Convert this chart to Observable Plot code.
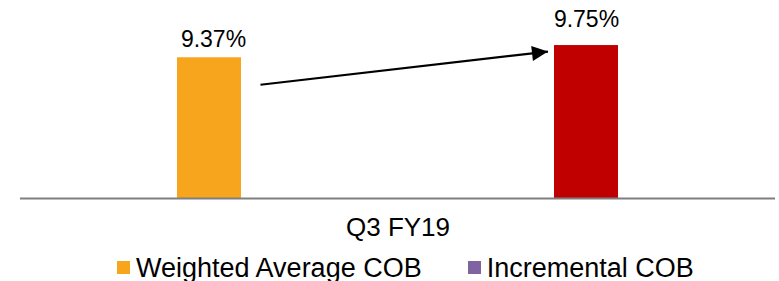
<!DOCTYPE html>
<html><head><meta charset="utf-8">
<script src="https://cdn.jsdelivr.net/npm/d3@7"></script>
<script src="https://cdn.jsdelivr.net/npm/@observablehq/plot@0.6"></script>
<style>
html,body{margin:0;padding:0;background:#fff;overflow:hidden}
#chart{width:779px;height:281px;font-family:"Liberation Sans",Arial,sans-serif}
#chart svg{display:block}
.legend{display:flex;align-items:center;height:27px;line-height:26px;font-size:27px;padding-left:117px;color:#000;white-space:nowrap}
.legend .item{display:flex;align-items:center}
.legend .sw{width:13px;height:13px;margin-right:6px;flex:none}
</style></head><body><div id="chart"></div>
<script>
// ---- data ----
const categories = ["Q3 FY19"];
const series = ["Weighted Average COB", "Incremental COB"];
const values = [9.37, 9.75];
const valueLabels = ["9.37%", "9.75%"];
const yDomain = [5, 10];
// arrow annotation (from first series to second series, in value units)
const arrowSeries = ["Weighted Average COB", "Incremental COB"];
const arrowValues = [8.35, 9.70];

// ---- styles ----
const barColors = ["#F7A51D", "#C00000"];
const legendColors = ["#F7A51D", "#8064A2"];

const rows = series.map((s, i) => ({series: s, value: values[i], label: valueLabels[i]}));
const arrowRow = [{x1: arrowSeries[0], y1: arrowValues[0], x2: arrowSeries[1], y2: arrowValues[1]}];

function insetCurve(start, end) {
  return (context) => {
    let pts = [];
    return {
      areaStart() {}, areaEnd() {},
      lineStart() { pts = []; },
      point(x, y) { pts.push([+x, +y]); },
      lineEnd() {
        const [x1, y1] = pts[0], [x2, y2] = pts[pts.length - 1];
        const L = Math.hypot(x2 - x1, y2 - y1) || 1;
        const ux = (x2 - x1) / L, uy = (y2 - y1) / L;
        context.moveTo(x1 + ux * start, y1 + uy * start);
        context.lineTo(x2 - ux * end, y2 - uy * end);
      }
    };
  };
}

function arrowHead(color) {
  const m = d3.create("svg:marker")
    .attr("viewBox", "0 0 17 15")
    .attr("markerUnits", "userSpaceOnUse")
    .attr("markerWidth", 17)
    .attr("markerHeight", 15)
    .attr("refX", 16)
    .attr("refY", 7.5)
    .attr("orient", "auto")
    .attr("overflow", "visible");
  m.append("path").attr("d", "M0,0L16,7.5L0,15Z").attr("fill", color).attr("stroke", "none");
  return m.node();
}

const plot = Plot.plot({
  width: 779,
  height: 254,
  marginLeft: 20,
  marginRight: 4,
  marginTop: 37,
  marginBottom: 56,
  style: {fontFamily: "'Liberation Sans', Arial, sans-serif", background: "transparent", overflow: "visible"},
  x: {domain: series, paddingInner: 0.8305, paddingOuter: 0.415, axis: null},
  y: {domain: yDomain, axis: null},
  color: {domain: series, range: barColors},
  marks: [
    Plot.barY(rows, {x: "series", y1: yDomain[0], y2: "value", fill: "series"}),
    Plot.ruleY([yDomain[0]], {stroke: "#7f7f7f", strokeWidth: 2}),
    Plot.text(rows.slice(0, 1), {x: "series", y: "value", text: "label", lineAnchor: "bottom", dy: -11, dx: 4, fontSize: 23, fill: "#000"}),
    Plot.text(rows.slice(1), {x: "series", y: "value", text: "label", lineAnchor: "bottom", dy: -19, fontSize: 23, fill: "#000"}),
    Plot.text(categories, {frameAnchor: "bottom", text: (d) => d, lineAnchor: "top", dy: 19, fontSize: 26, fill: "#000"}),
    Plot.link(arrowRow, {x1: "x1", y1: "y1", x2: "x2", y2: "y2", stroke: "#000", strokeWidth: 2.2, curve: insetCurve(51.3, 38.8), markerEnd: arrowHead})
  ]
});

const chart = d3.select("#chart");
chart.node().appendChild(plot);
const legend = chart.append("div").attr("class", "legend");
series.forEach((s, i) => {
  const it = legend.append("div").attr("class", "item").style("margin-right", i === 0 ? "46px" : "0");
  it.append("div").attr("class", "sw").style("background", legendColors[i]);
  it.append("span").text(s);
});
</script>
</body></html>
